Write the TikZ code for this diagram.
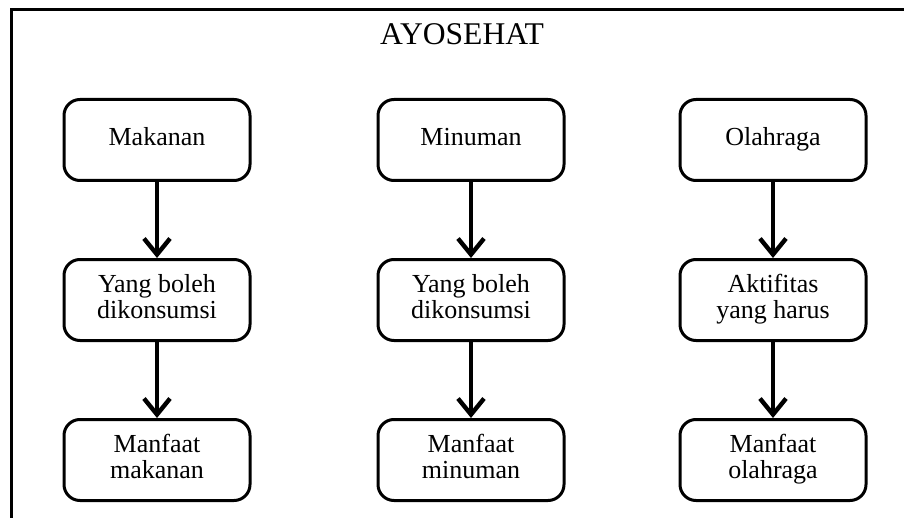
\documentclass[tikz,border=0pt]{standalone}
\usepackage{fontspec}
\setmainfont{Liberation Serif}
\usetikzlibrary{arrows.meta,positioning}

\begin{document}
\begin{tikzpicture}[x=0.5pt,y=-0.5pt, node distance=38pt and 60pt,
 font=\fontsize{13}{13}\selectfont,
 box/.style={draw,line width=1.5pt,rounded corners=8pt,align=center,minimum height=40.5pt,minimum width=93pt,inner sep=2pt},
 arr/.style={-{Straight Barb[length=8pt,width=13pt]},line width=2.2pt}]
\useasboundingbox (0,0) rectangle (904,518);
\draw[line width=1.5pt] (11,518) -- (11,10) -- (904,10);
\node[font=\fontsize{15.8}{16}\selectfont] (title) at (462,34) {AYOSEHAT};
\node[box] (makan) at (157,140) {\strut Makanan};
\node[box] (minum) at (471,140) {\strut Minuman};
\node[box] (olah) at (773,140) {\strut Olahraga};
\node[box,below=of makan] (konsumsiA) {\strut Yang boleh\\\strut dikonsumsi};
\node[box,below=of minum] (konsumsiB) {\strut Yang boleh\\\strut dikonsumsi};
\node[box,below=of olah] (aktif) {\strut Aktifitas\\\strut yang harus};
\node[box,below=of konsumsiA] (manfaatA) {\strut Manfaat\\\strut makanan};
\node[box,below=of konsumsiB] (manfaatB) {\strut Manfaat\\\strut minuman};
\node[box,below=of aktif] (manfaatC) {\strut Manfaat\\\strut olahraga};
\draw[arr] (makan)--(konsumsiA); \draw[arr] (konsumsiA)--(manfaatA);
\draw[arr] (minum)--(konsumsiB); \draw[arr] (konsumsiB)--(manfaatB);
\draw[arr] (olah)--(aktif); \draw[arr] (aktif)--(manfaatC);
\end{tikzpicture}
\end{document}
